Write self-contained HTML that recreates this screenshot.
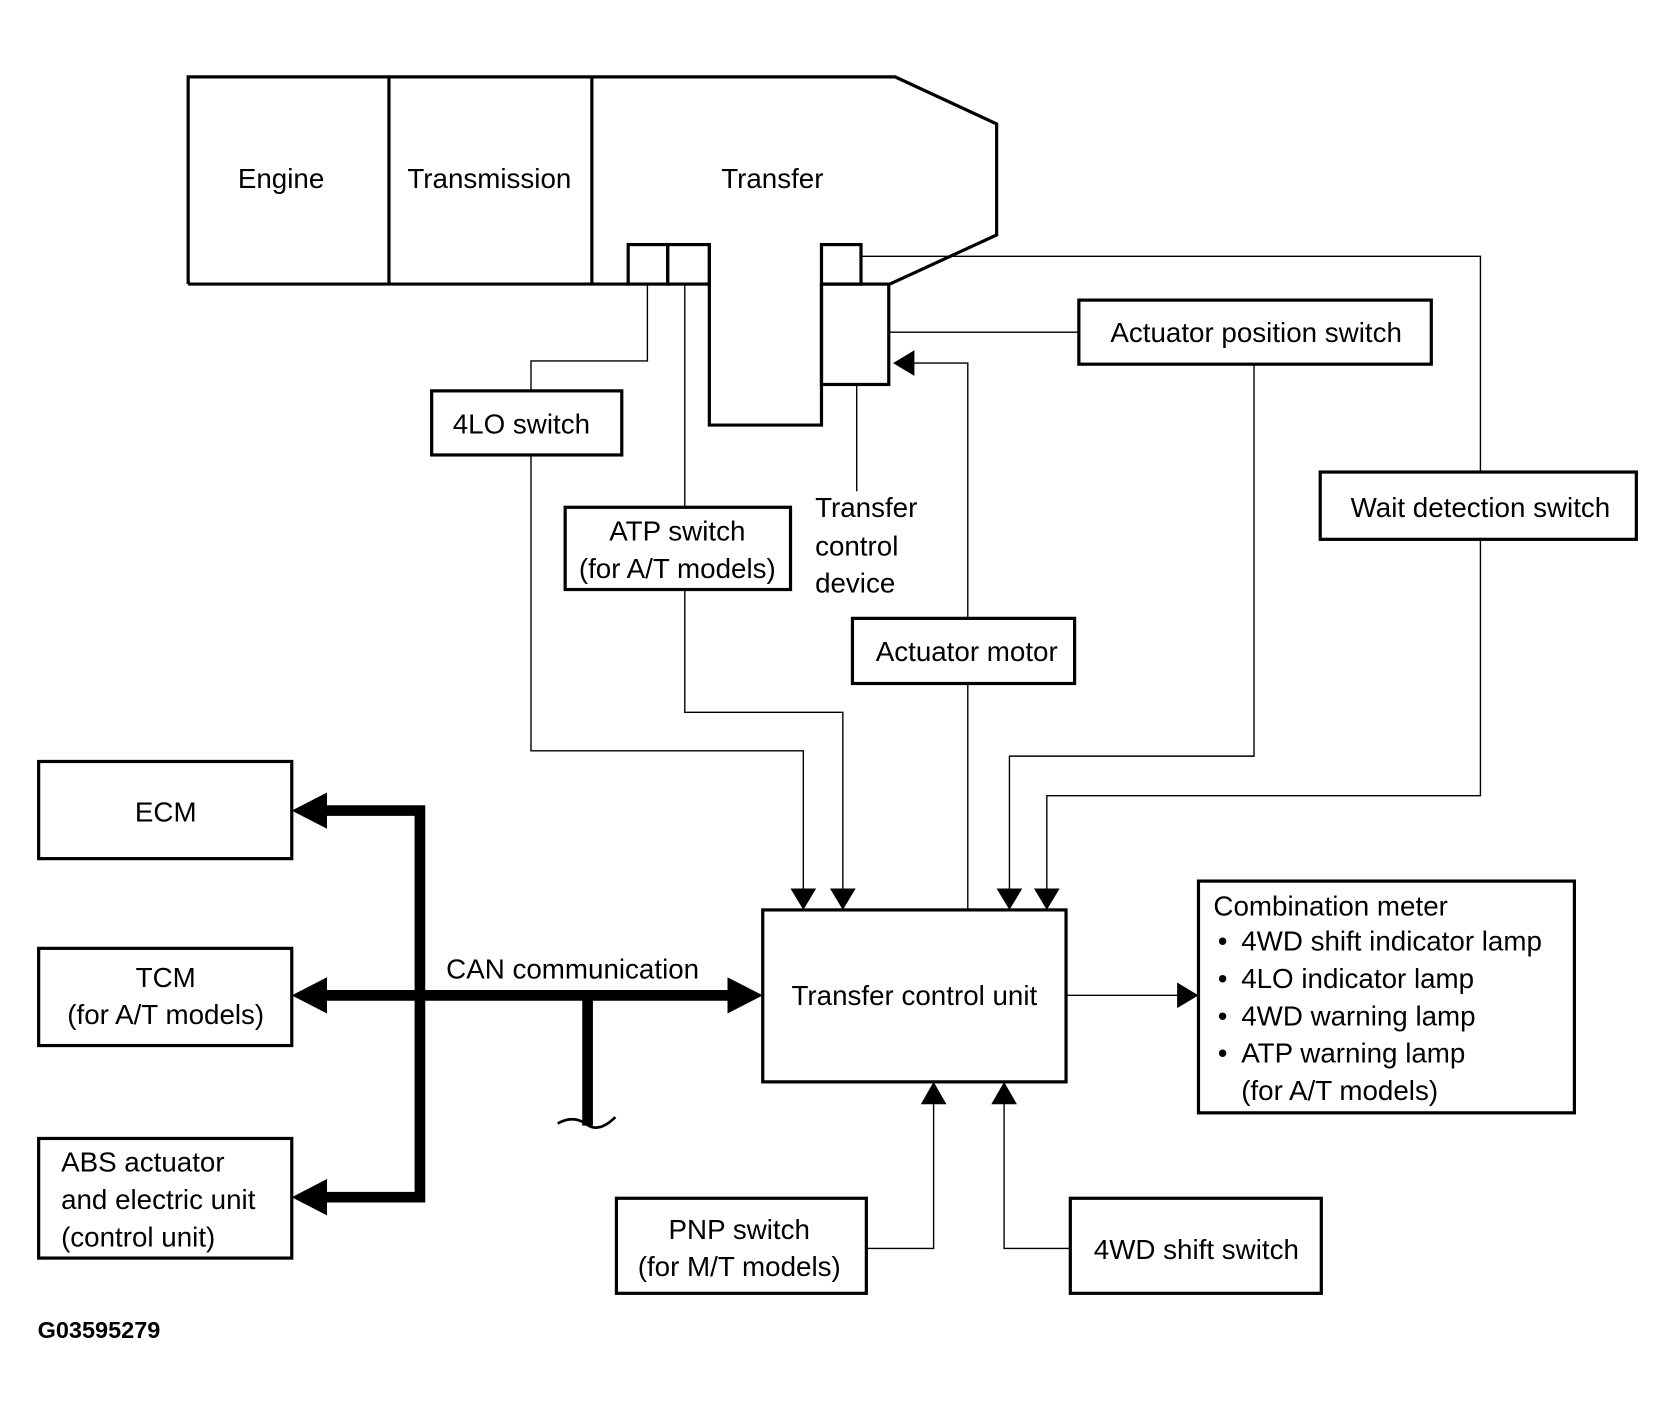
<!DOCTYPE html>
<html><head><meta charset="utf-8"><style>
html,body{margin:0;padding:0;background:#fff;}
svg{display:block;}
text{font-family:"Liberation Sans",Arial,sans-serif;font-size:26px;fill:#000;}
</style></head><body>
<svg width="1675" height="1414" viewBox="0 0 1568 1324" xmlns="http://www.w3.org/2000/svg">
<rect width="1568" height="1324" fill="#fff"/>
<g fill="none" stroke="#000" stroke-width="3">
<path d="M176,266 V72 H838 L933,116 V220 L833,266"/>
<path d="M176,266 H588"/>
<line x1="364" y1="72" x2="364" y2="266"/>
<line x1="554" y1="72" x2="554" y2="266"/>
<rect x="588" y="229" width="37" height="37"/>
<rect x="625" y="229" width="39" height="37"/>
<path d="M664,229 V398 H769 V266"/>
<rect x="769" y="229" width="37" height="37"/>
<rect x="769" y="266" width="63" height="94"/>
<rect x="404" y="366" width="178" height="60"/>
<rect x="529" y="475" width="211" height="77"/>
<rect x="1010" y="281" width="330" height="60"/>
<rect x="798" y="579" width="208" height="61"/>
<rect x="1236" y="442" width="296" height="63"/>
<rect x="714" y="852" width="284" height="161"/>
<rect x="1122" y="825" width="352" height="217"/>
<rect x="36" y="713" width="237" height="91"/>
<rect x="36" y="888" width="237" height="91"/>
<rect x="36" y="1066" width="237" height="112"/>
<rect x="577" y="1122" width="234" height="89"/>
<rect x="1002" y="1122" width="235" height="89"/>
</g>
<g fill="none" stroke="#000" stroke-width="1.3">
<path d="M806,240 H1386 V442"/>
<path d="M606,266 V338 H497 V366"/>
<line x1="641" y1="266" x2="641" y2="475"/>
<line x1="802" y1="360" x2="802" y2="460"/>
<line x1="832" y1="311" x2="1010" y2="311"/>
<path d="M906,579 V340 H852"/>
<line x1="906" y1="640" x2="906" y2="852"/>
<path d="M497,426 V703 H752 V834"/>
<path d="M641,552 V667 H789 V834"/>
<path d="M1174,341 V708 H945 V834"/>
<path d="M1386,505 V745 H980 V834"/>
<line x1="998" y1="932" x2="1104" y2="932"/>
<path d="M811,1169 H874 V1030"/>
<path d="M1002,1169 H940 V1030"/>
</g>
<g fill="#000">
<polygon points="836,340 856,328 856,352"/>
<polygon points="752,852 740,832 764,832"/>
<polygon points="789,852 777,832 801,832"/>
<polygon points="945,852 933,832 957,832"/>
<polygon points="980,852 968,832 992,832"/>
<polygon points="1122,932 1102,920 1102,944"/>
<polygon points="874,1013 862,1034 886,1034"/>
<polygon points="940,1013 928,1034 952,1034"/>
<polygon points="273,759 306,742 306,776"/>
<polygon points="273,932 306,915 306,949"/>
<polygon points="273,1121 306,1104 306,1138"/>
<polygon points="714,932 681,915 681,949"/>
</g>
<g fill="none" stroke="#000" stroke-width="10">
<path d="M300,759 H393 V1121 H300"/>
<line x1="300" y1="932" x2="686" y2="932"/>
<line x1="550" y1="932" x2="550" y2="1054"/>
</g>
<path d="M522,1052 Q536,1044 548,1052 Q560,1062 576,1046" fill="none" stroke="#000" stroke-width="2.5"/>
<g text-anchor="middle">
<text x="263" y="176">Engine</text>
<text x="458" y="176">Transmission</text>
<text x="723" y="176">Transfer</text>
<text x="488" y="406">4LO switch</text>
<text x="634" y="506">ATP switch</text>
<text x="634" y="541">(for A/T models)</text>
<text x="1176" y="320">Actuator position switch</text>
<text x="1386" y="484">Wait detection switch</text>
<text x="905" y="619">Actuator motor</text>
<text x="856" y="941">Transfer control unit</text>
<text x="155" y="769">ECM</text>
<text x="155" y="924">TCM</text>
<text x="155" y="959">(for A/T models)</text>
<text x="536" y="916">CAN communication</text>
<text x="692" y="1160">PNP switch</text>
<text x="692" y="1195">(for M/T models)</text>
<text x="1120" y="1179">4WD shift switch</text>
</g>
<text x="763" y="484">Transfer</text>
<text x="763" y="520">control</text>
<text x="763" y="555">device</text>
<text x="57" y="1097">ABS actuator</text>
<text x="57" y="1132">and electric unit</text>
<text x="57" y="1167">(control unit)</text>
<text x="1136" y="857">Combination meter</text>
<text x="1140" y="890">•</text><text x="1162" y="890">4WD shift indicator lamp</text>
<text x="1140" y="925">•</text><text x="1162" y="925">4LO indicator lamp</text>
<text x="1140" y="960">•</text><text x="1162" y="960">4WD warning lamp</text>
<text x="1140" y="995">•</text><text x="1162" y="995">ATP warning lamp</text>
<text x="1162" y="1030">(for A/T models)</text>
<text x="35" y="1253" style="font-weight:bold;font-size:22px">G03595279</text>
</svg>
</body></html>
